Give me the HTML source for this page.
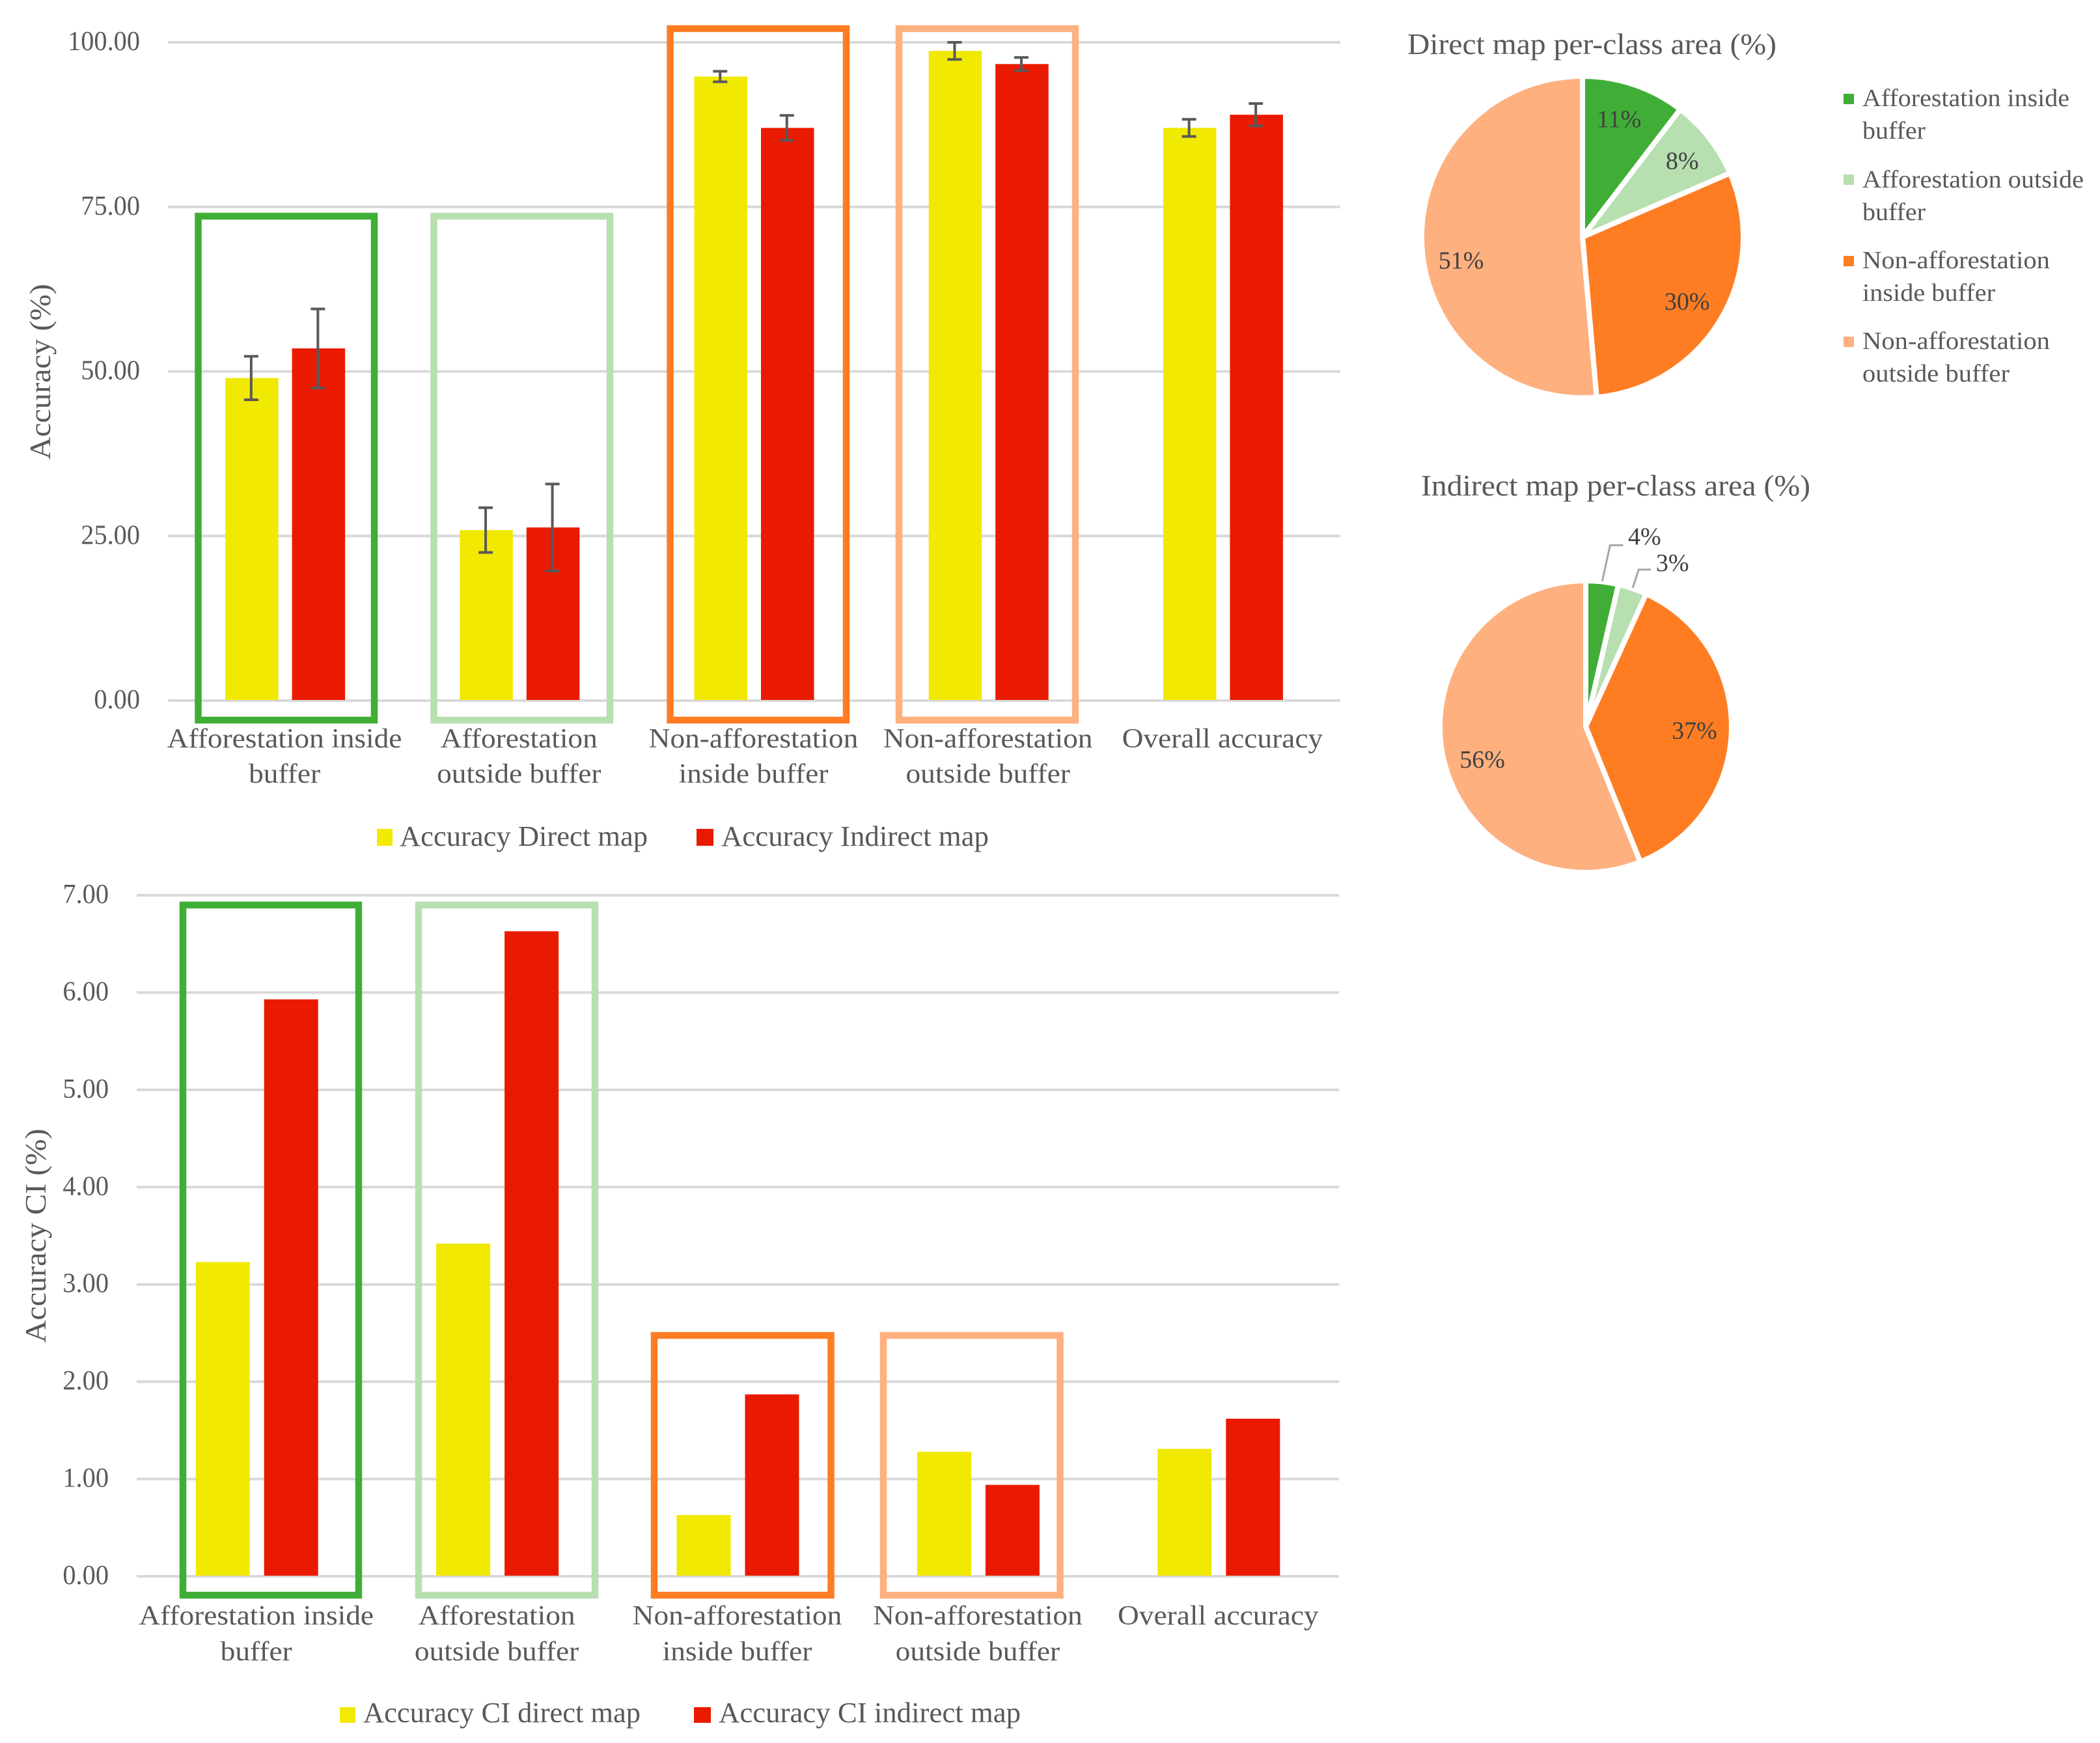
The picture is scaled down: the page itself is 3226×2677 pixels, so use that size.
<!DOCTYPE html>
<html lang="en">
<head>
<meta charset="utf-8">
<title>Accuracy charts</title>
<style>
html,body{margin:0;padding:0;background:#fff;}
svg{display:block;}
text{font-family:"Liberation Serif",serif;fill:#595959;}
</style>
</head>
<body>
<svg id="figure" xmlns="http://www.w3.org/2000/svg" width="3226" height="2677" viewBox="0 0 3226 2677">
  <rect x="0" y="0" width="3226" height="2677" fill="#ffffff"/>

  <g id="accuracy-chart">
    <text x="0" y="0" transform="translate(77 571) rotate(-90)" text-anchor="middle" font-size="46" textLength="270" lengthAdjust="spacingAndGlyphs">Accuracy (%)</text>
    <g id="accuracy-plot"></g>
    <rect x="304.5" y="332" width="270.5" height="774" fill="none" stroke="#40ae36" stroke-width="10.5"/>
    <rect x="666.5" y="332" width="270.5" height="774" fill="none" stroke="#b7dfb0" stroke-width="10.5"/>
    <rect x="1029.5" y="44" width="270.5" height="1062" fill="none" stroke="#fe7d23" stroke-width="10.5"/>
    <rect x="1381" y="44" width="271" height="1062" fill="none" stroke="#feb07f" stroke-width="10.5"/>
    <rect x="579" y="1273" width="24" height="26" fill="#f2ea00"/>
    <text x="614" y="1299" font-size="44" textLength="381" lengthAdjust="spacingAndGlyphs">Accuracy Direct map</text>
    <rect x="1070" y="1273" width="26" height="26" fill="#ea1a00"/>
    <text x="1108" y="1299" font-size="44" textLength="411" lengthAdjust="spacingAndGlyphs">Accuracy Indirect map</text>
  </g>

  <g id="ci-chart">
    <text x="0" y="0" transform="translate(70 1898) rotate(-90)" text-anchor="middle" font-size="46" textLength="329" lengthAdjust="spacingAndGlyphs">Accuracy CI (%)</text>
    <g id="ci-plot"></g>
    <rect x="281" y="1390" width="270" height="1060" fill="none" stroke="#40ae36" stroke-width="10.5"/>
    <rect x="643" y="1390" width="271" height="1060" fill="none" stroke="#b7dfb0" stroke-width="10.5"/>
    <rect x="1005" y="2051" width="271.5" height="399" fill="none" stroke="#fe7d23" stroke-width="10.5"/>
    <rect x="1357" y="2051" width="271.5" height="399" fill="none" stroke="#feb07f" stroke-width="10.5"/>
    <rect x="522" y="2622" width="24" height="24" fill="#f2ea00"/>
    <text x="558" y="2645" font-size="44" textLength="426" lengthAdjust="spacingAndGlyphs">Accuracy CI direct map</text>
    <rect x="1066" y="2622" width="26" height="24" fill="#ea1a00"/>
    <text x="1104" y="2645" font-size="44" textLength="464" lengthAdjust="spacingAndGlyphs">Accuracy CI indirect map</text>
  </g>

  <g id="direct-pie">
    <text x="2162" y="83" font-size="46" textLength="567" lengthAdjust="spacingAndGlyphs">Direct map per-class area (%)</text>
  </g>

  <g id="indirect-pie">
    <text x="2183" y="761" font-size="46" textLength="598" lengthAdjust="spacingAndGlyphs">Indirect map per-class area (%)</text>
  </g>

  <g>
    <rect x="2832" y="144" width="16" height="16" fill="#40ae36"/>
    <text font-size="38"><tspan x="2861" y="163" textLength="318" lengthAdjust="spacingAndGlyphs">Afforestation inside</tspan><tspan x="2861" y="213" textLength="97" lengthAdjust="spacingAndGlyphs">buffer</tspan></text>
    <rect x="2832" y="268" width="16" height="16" fill="#b7dfb0"/>
    <text font-size="38"><tspan x="2861" y="288" textLength="340" lengthAdjust="spacingAndGlyphs">Afforestation outside</tspan><tspan x="2861" y="338" textLength="97" lengthAdjust="spacingAndGlyphs">buffer</tspan></text>
    <rect x="2832" y="393" width="16" height="16" fill="#fe7d23"/>
    <text font-size="38"><tspan x="2861" y="412" textLength="288" lengthAdjust="spacingAndGlyphs">Non-afforestation</tspan><tspan x="2861" y="462" textLength="204" lengthAdjust="spacingAndGlyphs">inside buffer</tspan></text>
    <rect x="2832" y="517" width="16" height="16" fill="#feb07f"/>
    <text font-size="38"><tspan x="2861" y="536" textLength="288" lengthAdjust="spacingAndGlyphs">Non-afforestation</tspan><tspan x="2861" y="586" textLength="226" lengthAdjust="spacingAndGlyphs">outside buffer</tspan></text>
  </g>
</svg>

<script>
// ---- chart data ----
const categoryLines = [
  ["Afforestation inside", "buffer"],
  ["Afforestation", "outside buffer"],
  ["Non-afforestation", "inside buffer"],
  ["Non-afforestation", "outside buffer"],
  ["Overall accuracy"]
];
const accuracyDirect = [49.0, 25.9, 94.8, 98.7, 87.0];
const accuracyIndirect = [53.5, 26.3, 87.0, 96.7, 89.0];
const accuracyDirectError = [3.3, 3.4, 0.8, 1.3, 1.3];
const accuracyIndirectError = [6.0, 6.6, 1.9, 1.0, 1.7];
const accuracyTicks = [0, 25, 50, 75, 100];
const accuracyTickLabels = ["0.00", "25.00", "50.00", "75.00", "100.00"];

const ciDirect = [3.23, 3.42, 0.63, 1.28, 1.31];
const ciIndirect = [5.93, 6.63, 1.87, 0.94, 1.62];
const ciTicks = [0, 1, 2, 3, 4, 5, 6, 7];
const ciTickLabels = ["0.00", "1.00", "2.00", "3.00", "4.00", "5.00", "6.00", "7.00"];

const directPieValues = [10.4, 8.1, 30.1, 51.4];
const directPieLabels = ["11%", "8%", "30%", "51%"];
const indirectPieValues = [3.6, 3.2, 37.1, 56.1];
const indirectPieLabels = ["4%", "3%", "37%", "56%"];

// ---- drawing ----
const NS = "http://www.w3.org/2000/svg";
const YELLOW = "#f1e900", RED = "#ea1a00", GRID = "#d9d9d9", ERR = "#595959";
const SLICE_COLORS = ["#40ae36", "#b7dfb0", "#fe7d23", "#feb07f"];

function make(tag, parent, attrs) {
  const el = document.createElementNS(NS, tag);
  for (const k in attrs) el.setAttribute(k, attrs[k]);
  parent.appendChild(el);
  return el;
}
function makeText(parent, str, x, y, size, anchor, fit) {
  const el = make("text", parent, { x: x, y: y, "font-size": size, "text-anchor": anchor });
  el.textContent = str;
  const w = el.getComputedTextLength();
  if (w > 0) {
    el.setAttribute("textLength", (w * fit).toFixed(1));
    el.setAttribute("lengthAdjust", "spacingAndGlyphs");
  }
  return el;
}

function drawBarChart(cfg) {
  const g = document.getElementById(cfg.target);
  const yScale = v => cfg.y0 - (v / cfg.yMax) * (cfg.y0 - cfg.yTop);
  const band = (cfg.x1 - cfg.x0) / categoryLines.length;
  const xBar = (i, s) => cfg.x0 + i * band + (band - 2 * cfg.barW - cfg.gap) / 2 + s * (cfg.barW + cfg.gap);

  cfg.ticks.forEach((t, i) => {
    const line = make("line", g, { x1: cfg.x0, x2: cfg.x1, y1: yScale(t), y2: yScale(t), stroke: GRID, "stroke-width": 4 });
    
    
    const lab = makeText(g, cfg.tickLabels[i], cfg.tickX, yScale(t) + 12, 42, "end", 0.96);
    
    
  });

  [cfg.seriesA, cfg.seriesB].forEach((series, s) => {
    series.forEach((v, i) => {
      const bar = make("rect", g, {
        x: xBar(i, s), y: yScale(v), width: cfg.barW, height: yScale(0) - yScale(v) - 1,
        fill: s === 0 ? YELLOW : RED
      });
      
      
    });
  });

  if (cfg.errorA) {
    [cfg.errorA, cfg.errorB].forEach((errs, s) => {
      const series = s === 0 ? cfg.seriesA : cfg.seriesB;
      errs.forEach((e, i) => {
        const cx = xBar(i, s) + cfg.barW / 2 - 1;
        const hi = yScale(series[i] + e), lo = yScale(series[i] - e);
        const d = "M" + cx + " " + hi + "V" + lo +
          "M" + (cx - 11) + " " + hi + "H" + (cx + 11) +
          "M" + (cx - 11) + " " + lo + "H" + (cx + 11);
        const err = make("path", g, { d: d, fill: "none", stroke: ERR, "stroke-width": 4 });
        
        
      });
    });
  }

  categoryLines.forEach((lines, i) => {
    const cx = cfg.x0 + (i + 0.5) * band - 1;
    lines.forEach((ln, j) => {
      const lab = makeText(g, ln, cx, cfg.labelY + j * cfg.labelStep, 42, "middle", 1.08);
      
      
    });
  });
}

function drawPie(cfg) {
  const g = document.getElementById(cfg.target);
  const total = cfg.values.reduce((a, b) => a + b, 0);
  const polar = (deg, r) => {
    const a = deg * Math.PI / 180;
    return [cfg.cx + r * Math.sin(a), cfg.cy - r * Math.cos(a)];
  };
  let start = 0;
  const mids = [];
  cfg.values.forEach((v, i) => {
    const sweep = v / total * 360, end = start + sweep;
    const p0 = polar(start, cfg.r), p1 = polar(end, cfg.r);
    const d = "M" + cfg.cx + " " + cfg.cy + "L" + p0[0] + " " + p0[1] +
      "A" + cfg.r + " " + cfg.r + " 0 " + (sweep > 180 ? 1 : 0) + " 1 " + p1[0] + " " + p1[1] + "Z";
    const slice = make("path", g, { d: d, fill: SLICE_COLORS[i], stroke: "#ffffff", "stroke-width": 8, "stroke-linejoin": "round" });
    
    
    mids.push(start + sweep / 2);
    start = end;
  });
  cfg.labels.forEach((txt, i) => {
    const leader = cfg.leaders && cfg.leaders[i];
    let x, y;
    if (leader) {
      const s = polar(mids[i], cfg.r + 1);
      const ex = s[0] + leader.dx, ey = s[1] + leader.dy;
      const d = "M" + s[0] + " " + s[1] + "L" + ex + " " + ey + "H" + (ex + leader.run);
      const line = make("path", g, { d: d, fill: "none", stroke: "#a6a6a6", "stroke-width": 3 });
      
      
      x = ex + leader.run + 33;
      y = ey + leader.lift;
    } else {
      const p = polar(mids[i], cfg.labelRadius);
      const nudge = cfg.nudges[i];
      x = p[0] + nudge[0];
      y = p[1] + nudge[1] + 12;
    }
    const lab = makeText(g, txt, x, y, 38, "middle", 1);
    lab.setAttribute('fill', '#404040');
    lab.style.fill = '#404040';
    
    
  });
}

drawBarChart({
  target: "accuracy-plot", x0: 258, x1: 2059, y0: 1076, yTop: 65, yMax: 100,
  barW: 81.5, gap: 21, tickX: 215, labelY: 1148, labelStep: 54,
  ticks: accuracyTicks, tickLabels: accuracyTickLabels,
  seriesA: accuracyDirect, seriesB: accuracyIndirect,
  errorA: accuracyDirectError, errorB: accuracyIndirectError
});
drawBarChart({
  target: "ci-plot", x0: 210, x1: 2057, y0: 2421, yTop: 1375, yMax: 7,
  barW: 83, gap: 22, tickX: 167, labelY: 2495, labelStep: 55,
  ticks: ciTicks, tickLabels: ciTickLabels,
  seriesA: ciDirect, seriesB: ciIndirect
});
drawPie({
  target: "direct-pie", cx: 2431, cy: 364, r: 247, labelRadius: 190.6,
  values: directPieValues, labels: directPieLabels,
  nudges: [[-5, 0], [3, 1], [-3, 2], [4, 28]]
});
drawPie({
  target: "indirect-pie", cx: 2436, cy: 1116, r: 224, labelRadius: 167,
  values: indirectPieValues, labels: indirectPieLabels,
  nudges: [[0, 0], [0, 0], [0, 3], [5, 19]],
  leaders: [{ dx: 12, dy: -55, run: 20, lift: -1 }, { dx: 9, dy: -28, run: 19, lift: 2 }]
});
</script>
</body>
</html>
